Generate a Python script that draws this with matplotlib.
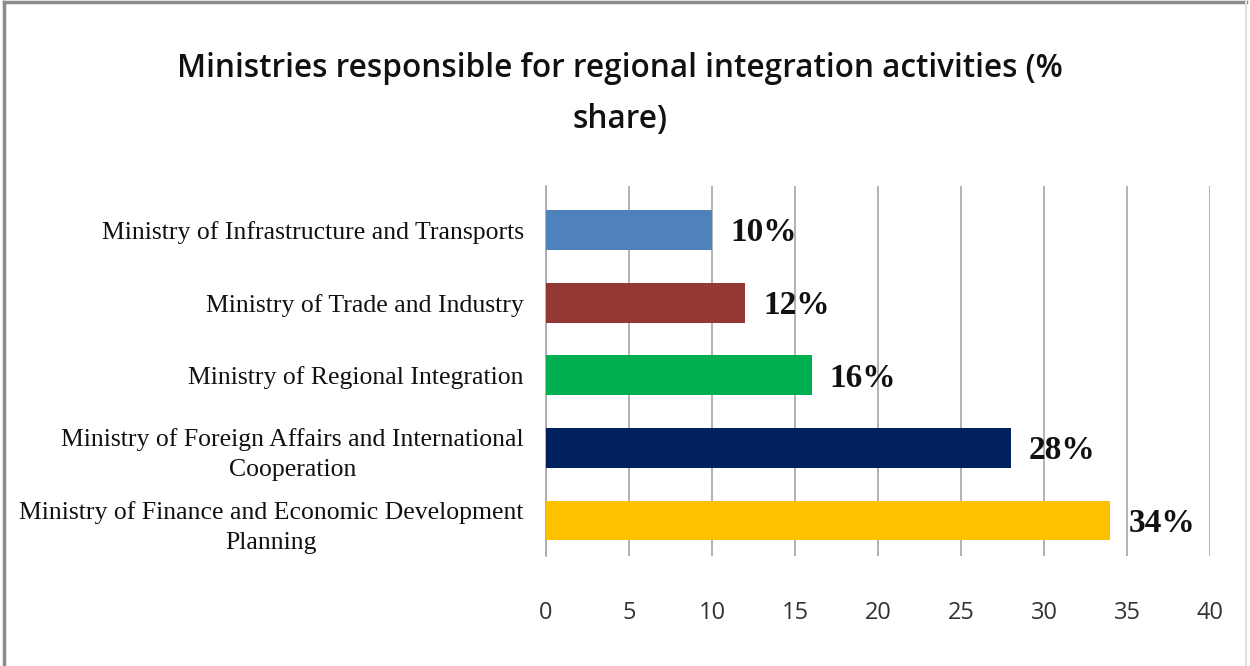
import matplotlib.pyplot as plt
from matplotlib.lines import Line2D

ministries = [
    "Ministry of Finance and Economic Development\nPlanning",
    "Ministry of Foreign Affairs and International\nCooperation",
    "Ministry of Regional Integration",
    "Ministry of Trade and Industry",
    "Ministry of Infrastructure and Transports",
]
shares = [34, 28, 16, 12, 10]
colors = ["#FFC000", "#002060", "#00B050", "#953735", "#4F81BD"]
x_ticks = [0, 5, 10, 15, 20, 25, 30, 35, 40]

fig = plt.figure(figsize=(12.5, 6.66), dpi=100)
ax = fig.add_axes([0.4368, 0.165, 0.5312, 0.555])

y = list(range(len(ministries)))
ax.barh(y, shares, height=0.55, color=colors, zorder=3)

for yi, v in zip(y, shares):
    ax.text(v + 1.1, yi - 0.04, f"{v}%", va="center", ha="left",
            family="Liberation Serif", fontweight="bold", fontsize=24,
            color="#111111", zorder=4)

ax.set_xlim(0, 40)
ax.set_ylim(-0.49, 4.6)
ax.set_xticks(x_ticks)
ax.set_yticks(y)
ax.set_yticklabels(ministries, family="Liberation Serif", fontsize=18.5,
                   ha="right", multialignment="center", linespacing=1.5,
                   color="#111111")
ax.tick_params(axis="y", length=0, pad=16)
ax.tick_params(axis="x", length=0, pad=32, labelsize=17, labelcolor="#333333")
for lbl in ax.get_xticklabels():
    lbl.set_family("Open Sans")

ax.grid(axis="x", color="#a6a6a6", lw=1.2, zorder=0)
for s in ["top", "right", "bottom"]:
    ax.spines[s].set_visible(False)
ax.spines["left"].set_color("#a6a6a6")
ax.spines["left"].set_linewidth(1.2)

title_kw = dict(ha="center", va="center", family="Open Sans", fontsize=22.7,
                fontweight="semibold", color="#111111")
fig.text(0.496, 0.897, "Ministries responsible for regional integration activities (%",
         **title_kw)
fig.text(0.496, 0.82, "share)", **title_kw)

# frame along the top and sides
fig.add_artist(Line2D([0.0035, 0.0035], [0, 0.997], color="#8c8c8c", lw=2.5))
fig.add_artist(Line2D([0.0035, 0.997], [0.997, 0.997], color="#8c8c8c", lw=2.5))
fig.add_artist(Line2D([0.997, 0.997], [0, 0.997], color="#e0e0e0", lw=1.5))

fig.savefig("out.png", dpi=100)
